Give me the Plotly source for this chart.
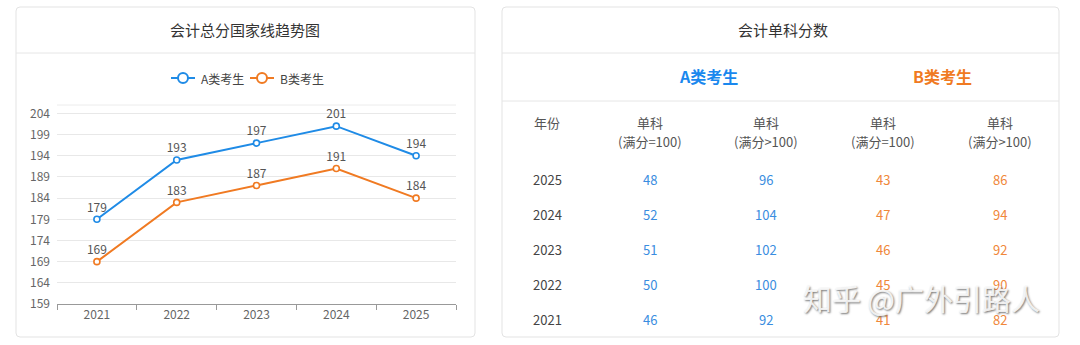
import plotly.graph_objects as go

# ---- data ----
years = ["2021", "2022", "2023", "2024", "2025"]
total_a = [179, 193, 197, 201, 194]
total_b = [169, 183, 187, 191, 184]

table_years = ["2025", "2024", "2023", "2022", "2021"]
a_eq100 = [48, 52, 51, 50, 46]
a_gt100 = [96, 104, 102, 100, 92]
b_eq100 = [43, 47, 46, 45, 41]
b_gt100 = [86, 94, 92, 90, 82]

W, H = 1080, 345
BLUE = "#1f8be6"
ORANGE = "#f07a22"
FONT = "Noto Sans CJK SC"


def px(x):
    return x / W


def py(y):
    return 1 - y / H


def rounded_rect(x0, y0, x1, y1, r):
    X0, X1 = px(x0), px(x1)
    Y0, Y1 = py(y0), py(y1)
    rx, ry = r / W, r / H
    return (f"M {X0+rx},{Y0} L {X1-rx},{Y0} Q {X1},{Y0} {X1},{Y0-ry} "
            f"L {X1},{Y1+ry} Q {X1},{Y1} {X1-rx},{Y1} L {X0+rx},{Y1} "
            f"Q {X0},{Y1} {X0},{Y1+ry} L {X0},{Y0-ry} Q {X0},{Y0} {X0+rx},{Y0} Z")


def label(text, x, y, size=13, color="#555", xanchor="center", **extra):
    return dict(text=text, x=px(x), y=py(y), xref="paper", yref="paper",
                xanchor=xanchor, yanchor="middle", showarrow=False,
                font=dict(size=size, color=color, family=FONT, **extra))


fig = go.Figure()

for name, vals, col in [("A类考生", total_a, BLUE), ("B类考生", total_b, ORANGE)]:
    fig.add_trace(go.Scatter(
        x=years, y=vals, name=name, mode="lines+markers+text",
        text=[str(v) for v in vals], textposition="top center",
        textfont=dict(size=12, color="#555", family=FONT),
        line=dict(color=col, width=2),
        marker=dict(symbol="circle", size=6, color="white",
                    line=dict(color=col, width=1.6)),
        cliponaxis=False, showlegend=False,
    ))

shapes = []
annotations = []

# cards
for x0, x1 in [(16, 475), (502, 1059)]:
    shapes.append(dict(type="path", xref="paper", yref="paper",
                       path=rounded_rect(x0, 7, x1, 337, 4),
                       line=dict(color="#e3e3e3", width=1), fillcolor="white",
                       layer="below"))
    shapes.append(dict(type="line", xref="paper", yref="paper",
                       x0=px(x0), x1=px(x1), y0=py(53), y1=py(53),
                       line=dict(color="#e6e6e6", width=1)))
shapes.append(dict(type="line", xref="paper", yref="paper",
                   x0=px(502), x1=px(1059), y0=py(101), y1=py(101),
                   line=dict(color="#e6e6e6", width=1)))
# top boundary of plot area
shapes.append(dict(type="line", xref="paper", yref="paper",
                   x0=px(57), x1=px(456), y0=py(105), y1=py(105),
                   line=dict(color="#ececec", width=1)))

# titles
annotations.append(label("会计总分国家线趋势图", 245, 30, size=15, color="#333"))
annotations.append(label("会计单科分数", 783, 30, size=15, color="#333"))

# legend
for lx, tx, name, col in [(183, 199, "A类考生", BLUE), (262, 278, "B类考生", ORANGE)]:
    shapes.append(dict(type="line", xref="paper", yref="paper",
                       x0=px(lx - 12), x1=px(lx + 12), y0=py(78), y1=py(78),
                       line=dict(color=col, width=2)))
    shapes.append(dict(type="circle", xref="paper", yref="paper",
                       x0=px(lx - 5), x1=px(lx + 5), y0=py(83), y1=py(73),
                       line=dict(color=col, width=2), fillcolor="white"))
    annotations.append(label(name, tx, 78, size=12, color="#444", xanchor="left"))

# table group headers
annotations.append(label("<b>A类考生</b>", 708, 76, size=16, color="#1a88ee"))
annotations.append(label("<b>B类考生</b>", 942, 76, size=16, color="#f07a22"))

col_x = [547, 650, 766, 883, 1000]
annotations.append(label("年份", col_x[0], 122))
for cx, sub in zip(col_x[1:], ["=100", ">100", "=100", ">100"]):
    annotations.append(label("单科", cx, 122))
    annotations.append(label(f"(满分{sub})", cx, 142))

row_y = [179, 214, 249, 284, 319]
columns = [(table_years, "#444"), (a_eq100, "#3a8de0"), (a_gt100, "#3a8de0"),
           (b_eq100, "#f0873a"), (b_gt100, "#f0873a")]
for cx, (vals, col) in zip(col_x, columns):
    for ry, v in zip(row_y, vals):
        annotations.append(label(str(v), cx, ry, color=col))

# watermark
annotations.append(label("知乎 @广外引路人", 921, 298, size=29,
                         color="rgba(250,250,250,0.9)", shadow="1px 1px 2px #666"))

fig.update_layout(
    width=W, height=H,
    margin=dict(l=0, r=0, t=0, b=0, autoexpand=False),
    showlegend=False,
    paper_bgcolor="white", plot_bgcolor="rgba(0,0,0,0)",
    font=dict(family=FONT, color="#666", size=12),
    shapes=shapes, annotations=annotations,
    xaxis=dict(domain=[px(57), px(456)], type="category", range=[-0.5, 4.5],
               automargin=False,
               showgrid=False, showline=True, linecolor="#999", linewidth=1,
               ticks="outside", tickson="boundaries", ticklen=5, tickcolor="#999",
               tickfont=dict(size=12, color="#666"), fixedrange=True),
    yaxis=dict(domain=[py(304), py(105)], range=[159, 206],
               automargin=False,
               tickmode="linear", tick0=159, dtick=5,
               showgrid=True, gridcolor="#e8e8e8", gridwidth=1,
               zeroline=False, showline=False, ticks="",
               tickfont=dict(size=12, color="#666"), ticklabelstandoff=6),
)

fig.write_html("out.html")
